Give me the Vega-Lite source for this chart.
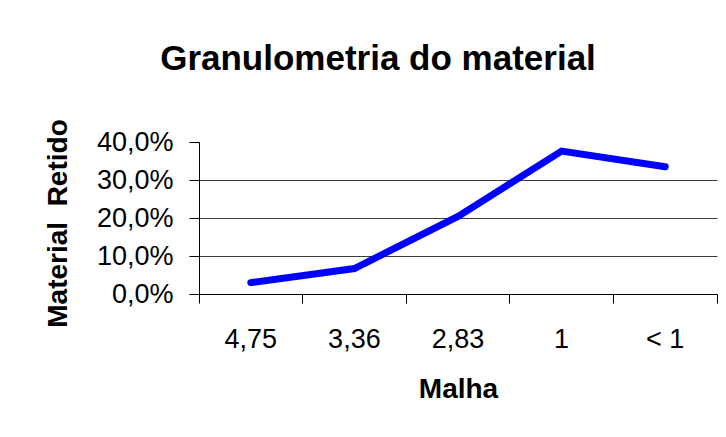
{
  "$schema": "https://vega.github.io/schema/vega-lite/v6.json",
  "width": 518,
  "height": 152,
  "autosize": "none",
  "padding": {"left": 199, "top": 142, "right": 9, "bottom": 143},
  "background": "white",
  "config": {
    "font": "Liberation Sans",
    "view": {"stroke": null}
  },
  "title": {
    "text": "Granulometria do material",
    "font": "Liberation Sans",
    "fontSize": 35,
    "fontWeight": "bold",
    "color": "#000000",
    "anchor": "middle",
    "frame": "group",
    "dx": -80,
    "baseline": "alphabetic",
    "offset": 14
  },
  "data": {
    "values": [
      {"malha": "4,75", "retido": 0.030},
      {"malha": "3,36", "retido": 0.067},
      {"malha": "2,83", "retido": 0.204},
      {"malha": "1", "retido": 0.376},
      {"malha": "< 1", "retido": 0.335}
    ]
  },
  "mark": {"type": "line", "color": "#0000FF", "strokeWidth": 7, "strokeCap": "round", "strokeJoin": "miter"},
  "encoding": {
    "x": {
      "field": "malha",
      "type": "nominal",
      "sort": null,
      "bandPosition": 0.5,
      "scale": {"type": "band", "paddingInner": 0, "paddingOuter": 0},
      "axis": {
        "title": "Malha",
        "titleFont": "Liberation Sans",
        "titleFontSize": 28,
        "titleFontWeight": "bold",
        "titleColor": "#000000",
        "titlePadding": 23,
        "labelFont": "Liberation Sans",
        "labelFontSize": 27,
        "labelColor": "#000000",
        "labelAngle": 0,
        "labelPadding": 23,
        "bandPosition": 1,
        "tickExtra": true,
        "tickSize": 9,
        "tickColor": "#000000",
        "domainColor": "#000000",
        "domainWidth": 1,
        "grid": false
      }
    },
    "y": {
      "field": "retido",
      "type": "quantitative",
      "scale": {"domain": [0, 0.4], "nice": false},
      "axis": {
        "title": "Material\u00a0 Retido",
        "titleFont": "Liberation Sans",
        "titleFontSize": 28,
        "titleFontWeight": "bold",
        "titleColor": "#000000",
        "titlePadding": 24,
        "titleY": 81,
        "values": [0, 0.1, 0.2, 0.3, 0.4],
        "labelExpr": "replace(format(datum.value, '.1%'), '.', ',')",
        "labelFont": "Liberation Sans",
        "labelFontSize": 27,
        "labelColor": "#000000",
        "labelPadding": 16,
        "tickSize": 10,
        "tickColor": "#000000",
        "domainColor": "#000000",
        "grid": true,
        "gridColor": {"condition": {"test": "datum.value >= 0.4 || datum.value <= 0", "value": "transparent"}, "value": "#3a3a3a"},
        "gridWidth": 1
      }
    }
  }
}
